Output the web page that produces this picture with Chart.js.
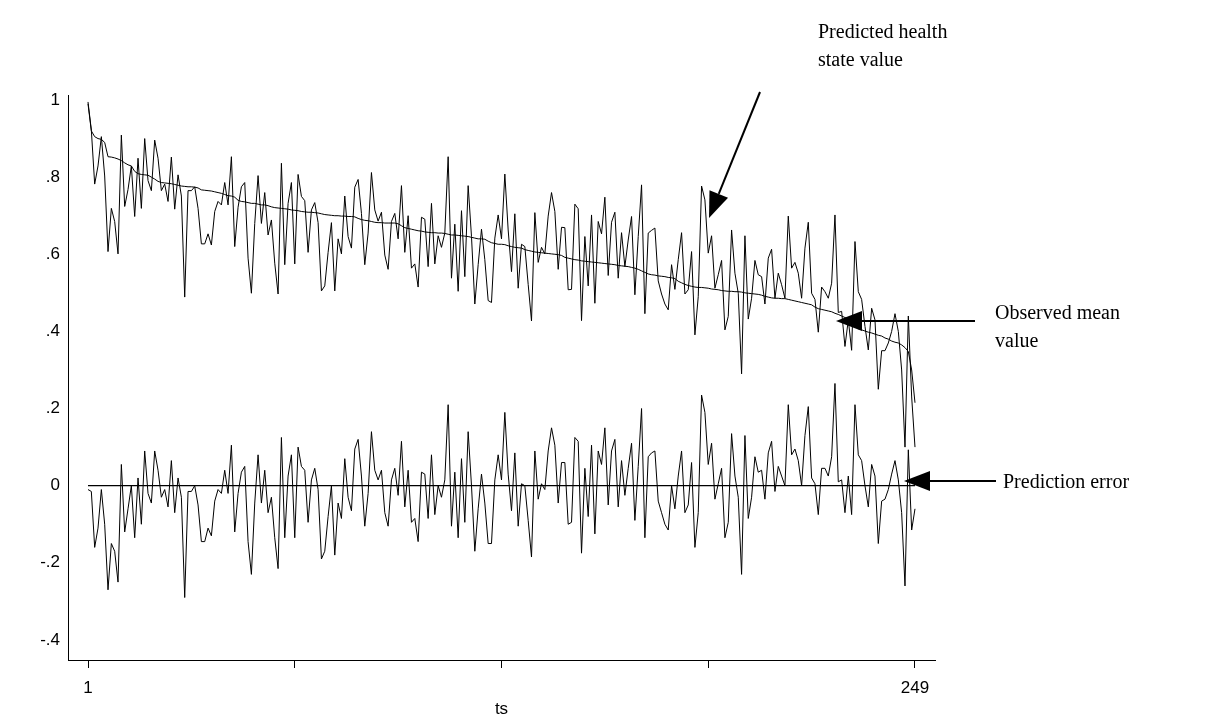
<!DOCTYPE html>
<html>
<head>
<meta charset="utf-8">
<script src="https://cdn.jsdelivr.net/npm/chart.js@4"></script>
<style>
  html, body { margin: 0; padding: 0; background: #fff; }
  #wrap { width: 1209px; height: 720px; }
</style>
</head>
<body>
<div id="wrap"><canvas id="chart" width="1209" height="720"></canvas></div>
<script>
// time steps 1..249
var ts = [];
for (var t = 1; t <= 249; t++) ts.push(t);

var xTicks = [1, 63, 125, 187, 249];
var yTicks = [-0.4, -0.2, 0, 0.2, 0.4, 0.6, 0.8, 1];

// observed mean value
var observed = [
  0.995, 0.922, 0.782, 0.829, 0.905, 0.803, 0.607, 0.719, 0.685, 0.601,
  0.909, 0.724, 0.768, 0.829, 0.698, 0.849, 0.719, 0.900, 0.791, 0.765,
  0.896, 0.849, 0.765, 0.782, 0.737, 0.852, 0.717, 0.806, 0.751, 0.489,
  0.765, 0.765, 0.775, 0.719, 0.627, 0.627, 0.653, 0.624, 0.711, 0.737,
  0.728, 0.786, 0.728, 0.853, 0.620, 0.722, 0.775, 0.786, 0.590, 0.499,
  0.680, 0.804, 0.680, 0.760, 0.650, 0.689, 0.577, 0.497, 0.836, 0.573,
  0.732, 0.786, 0.575, 0.807, 0.750, 0.739, 0.605, 0.715, 0.734, 0.682,
  0.505, 0.518, 0.605, 0.682, 0.505, 0.640, 0.601, 0.751, 0.646, 0.616,
  0.774, 0.794, 0.706, 0.573, 0.655, 0.812, 0.715, 0.686, 0.709, 0.598,
  0.561, 0.685, 0.706, 0.640, 0.778, 0.605, 0.700, 0.564, 0.575, 0.515,
  0.696, 0.691, 0.568, 0.732, 0.575, 0.648, 0.618, 0.655, 0.853, 0.538,
  0.678, 0.504, 0.713, 0.542, 0.778, 0.646, 0.471, 0.573, 0.665, 0.586,
  0.480, 0.475, 0.642, 0.702, 0.640, 0.808, 0.663, 0.555, 0.705, 0.512,
  0.626, 0.620, 0.522, 0.427, 0.708, 0.579, 0.618, 0.601, 0.699, 0.760,
  0.711, 0.561, 0.670, 0.669, 0.508, 0.509, 0.730, 0.718, 0.428, 0.646,
  0.518, 0.702, 0.473, 0.685, 0.653, 0.748, 0.545, 0.683, 0.709, 0.538,
  0.656, 0.568, 0.637, 0.698, 0.495, 0.646, 0.780, 0.446, 0.655, 0.662,
  0.668, 0.531, 0.497, 0.471, 0.456, 0.573, 0.509, 0.586, 0.656, 0.497,
  0.508, 0.607, 0.391, 0.490, 0.777, 0.741, 0.603, 0.648, 0.512, 0.547,
  0.584, 0.404, 0.439, 0.663, 0.551, 0.499, 0.290, 0.648, 0.432, 0.486,
  0.584, 0.547, 0.542, 0.471, 0.590, 0.613, 0.486, 0.551, 0.521, 0.486,
  0.699, 0.564, 0.579, 0.551, 0.486, 0.616, 0.683, 0.499, 0.483, 0.398,
  0.515, 0.503, 0.486, 0.525, 0.702, 0.449, 0.452, 0.361, 0.430, 0.351,
  0.633, 0.503, 0.483, 0.413, 0.352, 0.460, 0.430, 0.250, 0.350, 0.350,
  0.370, 0.400, 0.446, 0.400, 0.300, 0.100, 0.440, 0.230, 0.100
];

// predicted health state value
var predicted = [
  0.990, 0.920, 0.905, 0.900, 0.898, 0.890, 0.853, 0.852, 0.850, 0.847,
  0.843, 0.837, 0.832, 0.829, 0.815, 0.809, 0.807, 0.806, 0.805, 0.800,
  0.795, 0.789, 0.786, 0.785, 0.784, 0.783, 0.781, 0.779, 0.777, 0.776,
  0.775, 0.775, 0.774, 0.772, 0.767, 0.766, 0.765, 0.764, 0.762, 0.760,
  0.758, 0.755, 0.752, 0.751, 0.748, 0.740, 0.737, 0.736, 0.734, 0.732,
  0.732, 0.730, 0.728, 0.728, 0.726, 0.723, 0.721, 0.720, 0.719, 0.718,
  0.717, 0.715, 0.714, 0.713, 0.711, 0.710, 0.709, 0.709, 0.708, 0.707,
  0.705, 0.703, 0.702, 0.701, 0.700, 0.700, 0.699, 0.699, 0.698, 0.698,
  0.697, 0.693, 0.690, 0.688, 0.687, 0.685, 0.683, 0.682, 0.682, 0.681,
  0.681, 0.681, 0.681, 0.679, 0.674, 0.669, 0.667, 0.665, 0.663, 0.661,
  0.660, 0.658, 0.657, 0.656, 0.656, 0.655, 0.655, 0.654, 0.652, 0.650,
  0.650, 0.649, 0.648, 0.647, 0.646, 0.644, 0.642, 0.640, 0.640, 0.639,
  0.634, 0.630, 0.628, 0.626, 0.626, 0.625, 0.622, 0.620, 0.618, 0.617,
  0.616, 0.612, 0.610, 0.608, 0.606, 0.605, 0.604, 0.603, 0.602, 0.601,
  0.600, 0.599, 0.597, 0.592, 0.590, 0.588, 0.586, 0.585, 0.583, 0.582,
  0.581, 0.580, 0.579, 0.578, 0.577, 0.576, 0.575, 0.574, 0.573, 0.571,
  0.570, 0.569, 0.568, 0.566, 0.564, 0.561, 0.557, 0.553, 0.549, 0.547,
  0.546, 0.544, 0.543, 0.542, 0.540, 0.539, 0.537, 0.530, 0.526, 0.522,
  0.519, 0.517, 0.515, 0.514, 0.514, 0.513, 0.512, 0.510, 0.509, 0.508,
  0.506, 0.505, 0.504, 0.504, 0.503, 0.503, 0.502, 0.500, 0.499, 0.498,
  0.497, 0.496, 0.494, 0.491, 0.489, 0.487, 0.486, 0.486, 0.485, 0.485,
  0.483, 0.481, 0.479, 0.477, 0.475, 0.473, 0.471, 0.469, 0.463, 0.459,
  0.457, 0.455, 0.453, 0.451, 0.447, 0.444, 0.440, 0.436, 0.432, 0.425,
  0.415, 0.407, 0.404, 0.401, 0.398, 0.396, 0.393, 0.390, 0.388, 0.383,
  0.380, 0.375, 0.372, 0.370, 0.365, 0.358, 0.348, 0.300, 0.215
];

// prediction error
var predError = [
  -0.010, -0.015, -0.160, -0.110, -0.010, -0.100, -0.270, -0.150, -0.170, -0.250,
  0.055, -0.120, -0.060, 0.000, -0.135, 0.020, -0.100, 0.090, -0.020, -0.045,
  0.090, 0.040, -0.030, -0.010, -0.055, 0.065, -0.070, 0.020, -0.030, -0.290,
  -0.015, -0.015, 0.000, -0.050, -0.145, -0.145, -0.110, -0.130, -0.040, -0.010,
  -0.020, 0.040, -0.020, 0.105, -0.120, -0.020, 0.035, 0.050, -0.145, -0.230,
  -0.045, 0.080, -0.045, 0.040, -0.070, -0.030, -0.135, -0.215, 0.125, -0.135,
  0.025, 0.080, -0.135, 0.100, 0.050, 0.040, -0.095, 0.015, 0.045, -0.010,
  -0.190, -0.170, -0.080, 0.000, -0.180, -0.045, -0.085, 0.070, -0.030, -0.065,
  0.095, 0.120, 0.025, -0.105, -0.020, 0.140, 0.040, 0.015, 0.040, -0.070,
  -0.105, 0.015, 0.045, -0.025, 0.115, -0.055, 0.040, -0.095, -0.085, -0.145,
  0.035, 0.030, -0.085, 0.080, -0.075, 0.000, -0.030, 0.015, 0.210, -0.105,
  0.035, -0.135, 0.070, -0.095, 0.140, 0.000, -0.170, -0.060, 0.030, -0.045,
  -0.150, -0.150, 0.015, 0.080, 0.015, 0.190, 0.030, -0.065, 0.085, -0.105,
  0.005, 0.000, -0.090, -0.185, 0.090, -0.035, 0.005, -0.010, 0.090, 0.150,
  0.105, -0.045, 0.060, 0.060, -0.100, -0.095, 0.125, 0.115, -0.175, 0.045,
  -0.080, 0.105, -0.125, 0.090, 0.055, 0.150, -0.050, 0.090, 0.120, -0.055,
  0.065, -0.025, 0.045, 0.110, -0.090, 0.050, 0.200, -0.135, 0.075, 0.085,
  0.090, -0.040, -0.070, -0.100, -0.115, 0.000, -0.060, 0.025, 0.090, -0.070,
  -0.050, 0.060, -0.160, -0.070, 0.235, 0.190, 0.055, 0.110, -0.035, 0.005,
  0.045, -0.135, -0.095, 0.135, 0.025, -0.030, -0.230, 0.130, -0.085, -0.030,
  0.075, 0.035, 0.040, -0.035, 0.085, 0.115, -0.015, 0.050, 0.025, 0.000,
  0.210, 0.080, 0.095, 0.065, 0.000, 0.130, 0.205, 0.020, 0.005, -0.075,
  0.045, 0.045, 0.025, 0.075, 0.265, 0.010, 0.015, -0.070, 0.025, -0.075,
  0.210, 0.080, 0.065, 0.000, -0.055, 0.055, 0.025, -0.150, -0.040, -0.035,
  -0.010, 0.030, 0.065, 0.015, -0.070, -0.260, 0.093, -0.115, -0.060
];

// zero reference line
var zeroLine = [0, 0];
var zeroX = [1, 249];

function pts(xs, ys) {
  var out = [];
  for (var i = 0; i < ys.length; i++) out.push({x: xs[i], y: ys[i]});
  return out;
}

function lineSet(data, w) {
  return {
    data: data,
    borderColor: '#000000',
    borderWidth: w,
    pointRadius: 0,
    tension: 0,
    fill: false
  };
}

function arrow(ctx, x1, y1, x2, y2, headLen, headW) {
  var a = Math.atan2(y2 - y1, x2 - x1);
  var bx = x2 - headLen * Math.cos(a), by = y2 - headLen * Math.sin(a);
  ctx.beginPath();
  ctx.moveTo(x1, y1);
  ctx.lineTo(bx, by);
  ctx.stroke();
  ctx.beginPath();
  ctx.moveTo(x2, y2);
  ctx.lineTo(bx + headW / 2 * Math.sin(a), by - headW / 2 * Math.cos(a));
  ctx.lineTo(bx - headW / 2 * Math.sin(a), by + headW / 2 * Math.cos(a));
  ctx.closePath();
  ctx.fill();
}

var notes = {
  id: 'notes',
  afterDraw: function(chart) {
    var ctx = chart.ctx;
    ctx.save();
    ctx.fillStyle = '#000';
    ctx.strokeStyle = '#000';
    ctx.lineWidth = 2;
    ctx.font = '20px "Liberation Serif", "Times New Roman", serif';
    ctx.textBaseline = 'alphabetic';
    ctx.textAlign = 'left';
    ctx.fillText('Predicted health', 818, 38);
    ctx.fillText('state value', 818, 66);
    ctx.fillText('Observed mean', 995, 319);
    ctx.fillText('value', 995, 347);
    ctx.fillText('Prediction error', 1003, 488);
    arrow(ctx, 760, 92, 709, 218, 26, 20);
    arrow(ctx, 975, 321, 836, 321, 26, 20);
    arrow(ctx, 996, 481, 904, 481, 26, 20);
    ctx.restore();
  }
};

var tickFont = {family: '"Liberation Sans", Arial, sans-serif', size: 17};

new Chart(document.getElementById('chart'), {
  type: 'line',
  data: {
    datasets: [
      lineSet(pts(ts, observed), 1),
      lineSet(pts(ts, predicted), 1),
      lineSet(pts(ts, predError), 1),
      lineSet(pts(zeroX, zeroLine), 1.2)
    ]
  },
  options: {
    responsive: false,
    animation: false,
    devicePixelRatio: 1,
    layout: {padding: {left: 0, right: 274, top: 95, bottom: 0}},
    plugins: {legend: {display: false}, tooltip: {enabled: false}},
    scales: {
      x: {
        type: 'linear',
        min: -5,
        max: 255,
        afterBuildTicks: function(s) { s.ticks = xTicks.map(function(v) { return {value: v}; }); },
        afterFit: function(s) { s.height = 60; },
        grid: {drawOnChartArea: false, drawTicks: true, tickLength: 8, color: '#000'},
        border: {display: true, color: '#000', width: 1},
        ticks: {
          color: '#000', font: tickFont, padding: 10, maxRotation: 0, autoSkip: false,
          callback: function(v) { return (v === 1 || v === 249) ? String(v) : ''; }
        },
        title: {display: true, text: 'ts', color: '#000', font: tickFont, padding: {top: 2, bottom: 0}}
      },
      y: {
        min: -0.452,
        max: 1.013,
        afterBuildTicks: function(s) { s.ticks = yTicks.map(function(v) { return {value: v}; }); },
        afterFit: function(s) { s.width = 68; },
        grid: {drawOnChartArea: false, drawTicks: false, color: '#000'},
        border: {display: true, color: '#000', width: 1},
        ticks: {
          color: '#000', font: tickFont, padding: 8,
          callback: function(v) {
            if (Math.abs(v) < 1e-9) return '0';
            if (v === 1) return '1';
            return v.toFixed(1).replace('0.', '.');
          }
        }
      }
    }
  },
  plugins: [notes]
});
</script>
</body>
</html>
